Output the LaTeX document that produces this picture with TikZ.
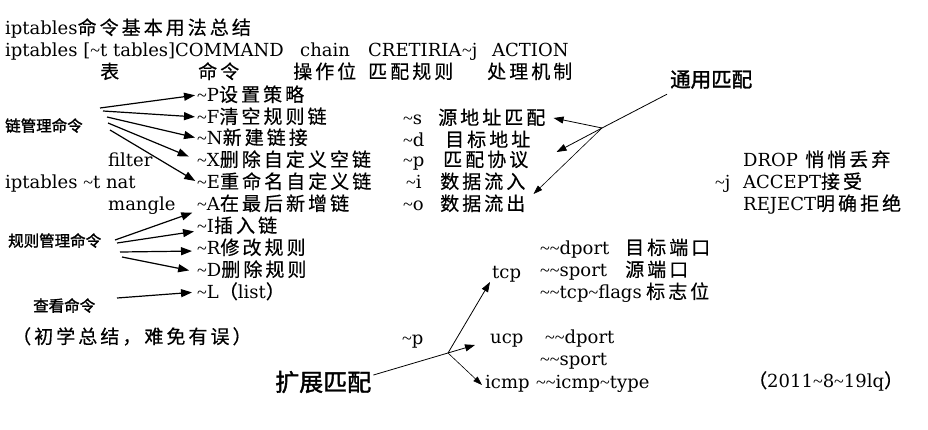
\documentclass[tikz,border=0pt]{standalone}
\usepackage{fontspec}
\setmainfont{DejaVu Serif}
\newfontfamily\cjkfont[LetterSpace=16,FakeBold=0.4]{Noto Sans CJK SC}
\newfontfamily\cjkboldfont[FakeBold=1.5]{Noto Sans CJK SC}
\newfontfamily\tlfont{Liberation Serif}
\newcommand\zh[1]{{\fontsize{19}{21}\cjkfont #1}}
\newcommand\tl{{\tlfont\textasciitilde}}
\usetikzlibrary{arrows.meta,calc}
\tikzset{
  txt/.style={inner sep=0pt, anchor=west, text height=13pt, text depth=0pt, font=\fontsize{18}{21}\selectfont},
  lab/.style={inner sep=0pt, anchor=west, text height=13pt, text depth=0pt, font=\fontsize{15.5}{17}\selectfont\cjkboldfont},
  labm/.style={inner sep=0pt, anchor=west, text height=14pt, text depth=0pt, font=\fontsize{20.5}{22}\selectfont\cjkboldfont},
  labbig/.style={inner sep=0pt, anchor=west, text height=18pt, text depth=0pt, font=\fontsize{24}{26}\selectfont\cjkboldfont},
  arr/.style={draw, line width=1.2pt, -{Triangle[length=11pt,width=8pt]}, shorten >=2pt},
  thinarr/.style={draw, line width=0.8pt, -{Triangle[length=10pt,width=7pt]}},
  hairarr/.style={draw, line width=0.6pt, -{Triangle[length=9pt,width=6pt]}},
  thinline/.style={draw, line width=0.8pt}
}
\begin{document}
\begin{tikzpicture}[x=1pt,y=-1pt]
\fill[white] (0,0) rectangle (928,429);
\useasboundingbox (0,0) rectangle (928,429);

% header
\node[txt] (title) at (5,28) {iptables\zh{命令基本用法总结}};
\node[txt] (syn1) at (5,50) {iptables [\tl t tables]COMMAND};
\node[txt] (syn2) at (300,50) {chain};
\node[txt] (syn3) at (368,50) {CRETIRIA};
\node[txt] (syn4) at (462,50) {\tl j};
\node[txt] (syn5) at (492,50) {ACTION};
\node[txt] (h1) at (100,72) {\zh{表}};
\node[txt] (h2) at (198,72) {\zh{命令}};
\node[txt] (h3) at (293,72) {\zh{操作位}};
\node[txt] (h4) at (368,72) {\zh{匹配规则}};
\node[txt] (h5) at (487,72) {\zh{处理机制}};

% left labels
\node[lab] (chainmgmt) at (5,125) {链管理命令};
\node[txt] (filter) at (108,160) {filter};
\node[txt] (nat) at (5,182) {iptables \tl t nat};
\node[txt] (mangle) at (108,204) {mangle};
\node[lab] (rulemgmt) at (8,240) {规则管理命令};
\node[lab] (view) at (33,305) {查看命令};
\node[txt] (note) at (12,337) {\zh{（初学总结，难免有误）}};

% commands
\node[txt] (cP) at (197,95) {\tl P\zh{设置策略}};
\node[txt] (cF) at (197,117) {\tl F\zh{清空规则链}};
\node[txt] (cN) at (197,138) {\tl N\zh{新建链接}};
\node[txt] (cX) at (197,160) {\tl X\zh{删除自定义空链}};
\node[txt] (cE) at (197,182) {\tl E\zh{重命名自定义链}};
\node[txt] (cA) at (197,204) {\tl A\zh{在最后新增链}};
\node[txt] (cI) at (197,226) {\tl I\zh{插入链}};
\node[txt] (cR) at (197,248) {\tl R\zh{修改规则}};
\node[txt] (cD) at (197,270) {\tl D\zh{删除规则}};
\node[txt] (cL) at (197,292) {\tl L\zh{（}list\zh{）}};

% general matches
\node[txt] (ms) at (403,118) {\tl s};
\node[txt] (ms2) at (438,118) {\zh{源地址匹配}};
\node[txt] (md) at (403,140) {\tl d};
\node[txt] (md2) at (445,140) {\zh{目标地址}};
\node[txt] (mp) at (403,160) {\tl p};
\node[txt] (mp2) at (443,160) {\zh{匹配协议}};
\node[txt] (mi) at (406,182) {\tl i};
\node[txt] (mi2) at (440,182) {\zh{数据流入}};
\node[txt] (mo) at (403,204) {\tl o};
\node[txt] (mo2) at (440,204) {\zh{数据流出}};
\node[labm] (common) at (670,80) {通用匹配};

% actions
\node[txt] (drop) at (743,160) {DROP};
\node[txt] (drop2) at (805,160) {\zh{悄悄丢弃}};
\node[txt] (jj) at (715,182) {\tl j};
\node[txt] (accept) at (743,182) {ACCEPT\zh{接受}};
\node[txt] (reject) at (743,204) {REJECT\zh{明确拒绝}};

% extended matches
\node[txt] (tcp) at (492,272) {tcp};
\node[txt] (tdport) at (540,248) {\tl\tl dport};
\node[txt] (tdport2) at (625,248) {\zh{目标端口}};
\node[txt] (tsport) at (540,270) {\tl\tl sport};
\node[txt] (tsport2) at (625,270) {\zh{源端口}};
\node[txt] (tflags) at (540,292) {\tl\tl tcp\tl flags};
\node[txt] (tflags2) at (646,292) {\zh{标志位}};
\node[txt] (pp) at (402,338) {\tl p};
\node[txt] (ucp) at (490,337) {ucp};
\node[txt] (udport) at (545,337) {\tl\tl dport};
\node[txt] (usport) at (540,359) {\tl\tl sport};
\node[txt] (icmp) at (485,382) {icmp};
\node[txt] (itype) at (536,382) {\tl\tl icmp\tl type};
\node[labbig] (ext) at (275,382) {扩展匹配};
\node[txt] (date) at (748,381) {\zh{（}2011\tl 8\tl 19lq\zh{）}};

% chain management arrows
\coordinate (c1) at (100,108);
\coordinate (c2) at (103,111);
\coordinate (c3) at (107,117);
\coordinate (c4) at (108,123);
\coordinate (c5) at (110,130);
\draw[arr] (c1) -- (cP.west);
\draw[arr] (c2) -- (cF.west);
\draw[arr] (c3) -- (cN.west);
\draw[arr, shorten >=9pt] (c4) -- (cX.west);
\draw[arr] (c5) -- (cE.west);

% rule management arrows
\coordinate (r1) at (115,240);
\coordinate (r2) at (117,243);
\coordinate (r3) at (120,252);
\coordinate (r4) at (122,257);
\coordinate (v1) at (117,298);
\draw[arr, shorten >=5pt] (r1) -- ([yshift=-7pt]cA.west);
\draw[arr, shorten >=3pt] (r2) -- ([yshift=-5pt]cI.west);
\draw[arr, shorten >=5pt] (r3) -- ([yshift=-3pt]cR.west);
\draw[arr, shorten >=8pt] (r4) -- ([yshift=-2pt]cD.west);
\draw[arr, shorten >=5pt] (v1) -- (cL.west);

% general match arrows
\coordinate (hub) at (602,128);
\draw[thinline] ([xshift=-3pt,yshift=-7pt]common.south west) -- (hub);
\draw[thinarr] (hub) -- ([xshift=8pt]ms2.east);
\draw[thinarr] (hub) -- ([xshift=28pt,yshift=8pt]mp2.east);
\draw[hairarr] (hub) -- ([xshift=8pt,yshift=10pt]mo2.east);

% extended match arrows
\coordinate (e0) at ([xshift=2pt,yshift=7pt]ext.east);
\coordinate (hub2) at (448,353);
\draw[thinarr] (e0) -- ([xshift=-15pt,yshift=-8pt]ucp.west);
\draw[thinarr] (hub2) -- ([xshift=-2pt,yshift=-10pt]tcp.west);
\draw[hairarr] (hub2) -- ([xshift=-3pt,yshift=-3pt]icmp.west);
\end{tikzpicture}
\end{document}
